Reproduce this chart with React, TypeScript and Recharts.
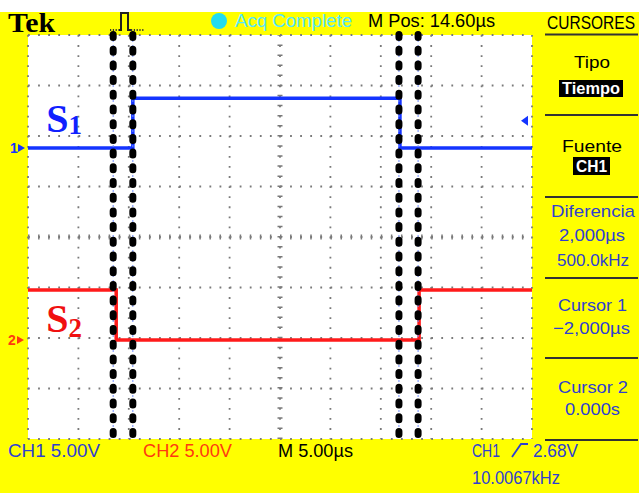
import React from 'react';
import { LineChart, Line, XAxis, YAxis, CartesianGrid, ReferenceLine, ReferenceDot } from 'recharts';

// ---------- data (units: screen divisions) ----------
const majorX = [0, 1, 2, 3, 4, 5, 6, 7, 8, 9, 10];
const majorY = [-4, -3, -2, -1, 0, 1, 2, 3, 4];
const minorX = Array.from({ length: 51 }, (_, i) => i / 5);
const minorY = Array.from({ length: 41 }, (_, i) => -4 + i / 5);

const s1Times = [0, 2.08, 2.08, 7.38, 7.38, 10];
const s1Levels = [1.76, 1.76, 2.75, 2.75, 1.76, 1.76];
const s2Times = [0, 1.75, 1.75, 7.76, 7.76, 10];
const s2Levels = [-1.05, -1.05, -2.04, -2.04, -1.05, -1.05];
const cursorTimes = [1.69, 2.08, 7.36, 7.74];
const ch1Ground = 1.76;
const ch2Ground = -2.04;
const ch1TriggerLevel = 2.3;
const s1LabelPos = { t: 0.38, v: 2.06 };
const s2LabelPos = { t: 0.38, v: -1.9 };

const topTexts = { brand: 'Tek', acq: 'Acq Complete', mpos: 'M Pos: 14.60µs', menu: 'CURSORES' };
const panelTexts = {
  tipo: 'Tipo', tiempo: 'Tiempo', fuente: 'Fuente', ch1: 'CH1',
  dif: 'Diferencia', difT: '2,000µs', difF: '500.0kHz',
  c1: 'Cursor 1', c1v: '−2,000µs', c2: 'Cursor 2', c2v: '0.000s',
};
const bottomTexts = { ch1: 'CH1  5.00V', ch2: 'CH2  5.00V', m: 'M 5.00µs', trig: 'CH1', trigV: '2.68V', freq: '10.0067kHz' };

const s1Data = s1Times.map((t, i) => ({ t, v: s1Levels[i] }));
const s2Data = s2Times.map((t, i) => ({ t, v: s2Levels[i] }));

// ---------- styling ----------
const W = 639;
const H = 493;
const MARGIN = { top: 35, right: 107, bottom: 54, left: 28 };
const SANS = "'Liberation Sans', Arial, sans-serif";
const SERIF = "'Liberation Serif', 'Times New Roman', serif";
const BLUE_TXT = '#2f3fd0';
const CH1_COLOR = '#1434ff';
const CH2_COLOR = '#ff1a1a';
const CH2_TXT = '#ff3a10';

const T = ({ x, y, w, size = 18, fill = '#000', anchor = 'start', weight = 400, family = SANS, children }: any) => (
  <text x={x} y={y} fontSize={size} fill={fill} textAnchor={anchor} fontWeight={weight}
    fontFamily={family} textLength={w} lengthAdjust="spacingAndGlyphs">{children}</text>
);

const vGen = (p: any) => {
  const o = p.offset;
  return majorX.map((v) => o.left + (v / 10) * o.width);
};
const hGen = (p: any) => {
  const o = p.offset;
  return majorY.map((v) => o.top + ((4 - v) / 8) * o.height);
};

const ch1Marker = (props: any) => {
  const vb = props.viewBox;
  const y = vb.y;
  return (
    <g>
      <text x={vb.x - 18} y={y + 5} fontSize={14} fontWeight={700} fill={CH1_COLOR} fontFamily={SANS}>1</text>
      <path d={`M${vb.x - 10},${y - 4} L${vb.x - 3},${y} L${vb.x - 10},${y + 4} Z`} fill={CH1_COLOR} />
    </g>
  );
};
const ch2Marker = (props: any) => {
  const vb = props.viewBox;
  const y = vb.y;
  return (
    <g>
      <text x={vb.x - 20} y={y + 5} fontSize={14} fontWeight={700} fill={CH2_TXT} fontFamily={SANS}>2</text>
      <path d={`M${vb.x - 11},${y - 4} L${vb.x - 4},${y} L${vb.x - 11},${y + 4} Z`} fill={CH2_TXT} />
    </g>
  );
};
const trigMarker = (props: any) => {
  const vb = props.viewBox;
  const xr = vb.x + vb.width;
  const y = vb.y;
  return <path d={`M${xr - 11},${y} L${xr - 4},${y - 5} L${xr - 4},${y + 5} Z`} fill={CH1_COLOR} />;
};
const s1Label = (props: any) => {
  const vb = props.viewBox;
  return (
    <text x={vb.x} y={vb.y} fontFamily={SERIF} fontWeight={700} fontSize={40} fill="#1020ff">
      S<tspan fontSize={27} dy={2}>1</tspan>
    </text>
  );
};
const s2Label = (props: any) => {
  const vb = props.viewBox;
  return (
    <text x={vb.x} y={vb.y} fontFamily={SERIF} fontWeight={700} fontSize={40} fill="#f01010">
      S<tspan fontSize={27} dy={5}>2</tspan>
    </text>
  );
};

export default function App() {
  return (
    <div style={{ position: 'absolute', left: 0, top: 0, width: W, height: H, background: '#fff', overflow: 'hidden' }}>
      <div style={{ position: 'absolute', left: 0, top: 12, width: W, height: H - 12, background: '#ffff00' }} />
      <div style={{ position: 'absolute', left: 0, top: 0 }}>
        <LineChart width={W} height={H} margin={MARGIN}>
          <CartesianGrid stroke="#7a7a7a" strokeWidth={1.8} strokeDasharray="1.8 8.28" fill="#ffffff"
            verticalCoordinatesGenerator={vGen} horizontalCoordinatesGenerator={hGen} />
          <XAxis xAxisId={0} dataKey="t" type="number" domain={[0, 10]} ticks={majorX} allowDataOverflow
            mirror height={0} tick={false} tickLine={false} axisLine={false} />
          <YAxis yAxisId={0} type="number" domain={[-4, 4]} ticks={majorY} allowDataOverflow
            mirror width={0} tick={false} tickLine={false} axisLine={false} />
          <XAxis xAxisId="bot" type="number" domain={[0, 10]} ticks={minorX} orientation="bottom" mirror height={0}
            tick={false} tickSize={4} tickLine={{ stroke: '#666', strokeWidth: 1.5 }} axisLine={{ stroke: '#222', strokeWidth: 2 }} />
          <XAxis xAxisId="top" type="number" domain={[0, 10]} ticks={minorX} orientation="top" mirror height={0}
            tick={false} tickSize={4} tickLine={{ stroke: '#666', strokeWidth: 1.5 }} axisLine={{ stroke: '#222', strokeWidth: 2 }} />
          <YAxis yAxisId="left" type="number" domain={[-4, 4]} ticks={minorY} orientation="left" mirror width={0}
            tick={false} tickSize={4} tickLine={{ stroke: '#666', strokeWidth: 1.5 }} axisLine={{ stroke: '#222', strokeWidth: 2 }} />
          <YAxis yAxisId="right" type="number" domain={[-4, 4]} ticks={minorY} orientation="right" mirror width={0}
            tick={false} tickSize={4} tickLine={{ stroke: '#666', strokeWidth: 1.5 }} axisLine={{ stroke: '#222', strokeWidth: 2 }} />

          <ReferenceLine y={0} stroke="#7a7a7a" strokeWidth={5} strokeDasharray="1.5 8.58" />
          <ReferenceLine x={5} stroke="#7a7a7a" strokeWidth={5} strokeDasharray="1.5 8.58" />

          <Line data={s1Data} dataKey="v" type="linear" stroke={CH1_COLOR} strokeWidth={3.5} dot={false} isAnimationActive={false} />
          <Line data={s2Data} dataKey="v" type="linear" stroke={CH2_COLOR} strokeWidth={3.5} dot={false} isAnimationActive={false} />

          <ReferenceLine y={ch1Ground} stroke="none" label={ch1Marker} ifOverflow="visible" />
          <ReferenceLine y={ch2Ground} stroke="none" label={ch2Marker} ifOverflow="visible" />
          <ReferenceLine y={ch1TriggerLevel} stroke="none" label={trigMarker} ifOverflow="visible" />
          <ReferenceDot x={s1LabelPos.t} y={s1LabelPos.v} r={1} fill="none" stroke="none" label={s1Label} />
          <ReferenceDot x={s2LabelPos.t} y={s2LabelPos.v} r={1} fill="none" stroke="none" label={s2Label} />

          {cursorTimes.map((c) => (
            <ReferenceLine key={'b' + c} segment={[{ x: c, y: 4.0 }, { x: c, y: -4.0 }]} ifOverflow="visible"
              stroke="#6f8cff" strokeWidth={1} strokeDasharray="2 3" />
          ))}
          {cursorTimes.map((c) => (
            <ReferenceLine key={'k' + c} segment={[{ x: c, y: 4.01 }, { x: c, y: -4.06 }]} ifOverflow="visible"
              stroke="#000" strokeWidth={7} strokeLinecap="round" strokeDasharray="3 11.7" />
          ))}
        </LineChart>
      </div>
      <svg width={W} height={H} style={{ position: 'absolute', left: 0, top: 0, pointerEvents: 'none' }}>
        {/* top bar */}
        <T x={8} y={32} w={47} size={28} weight={700} family={SERIF}>{topTexts.brand}</T>
        <path d="M110,30 L119,30" stroke="#333" strokeWidth={2} strokeDasharray="1.2 1.6" fill="none" />
        <path d="M119,30 L121,30 L121,13 L128,13 L128,30 L131,30" stroke="#222" strokeWidth={2} fill="none" />
        <path d="M131,30 L144,30" stroke="#333" strokeWidth={2} strokeDasharray="1.2 1.6" fill="none" />
        <circle cx={219} cy={21} r={8} fill="#22dcef" />
        <T x={235} y={27} w={117} size={19} fill="#55e6ff">{topTexts.acq}</T>
        <T x={368} y={27} w={127} size={19}>{topTexts.mpos}</T>
        <T x={635} y={29} w={88} size={18} anchor="end">{topTexts.menu}</T>
        <line x1={545} y1={34.5} x2={638} y2={34.5} stroke="#333" strokeWidth={2} />

        {/* right panel */}
        <T x={592} y={68} w={36} size={17} anchor="middle">{panelTexts.tipo}</T>
        <rect x={559} y={80} width={64} height={17} fill="#000" />
        <T x={591} y={94} w={58} size={16} fill="#fff" anchor="middle" weight={700}>{panelTexts.tiempo}</T>
        <line x1={545} y1={115} x2={638} y2={115} stroke="#333" strokeWidth={2} />
        <T x={592} y={152} w={60} size={17} anchor="middle">{panelTexts.fuente}</T>
        <rect x={573} y={157} width={37} height={18} fill="#000" />
        <T x={591.5} y={172} w={31} size={16} fill="#fff" anchor="middle" weight={700}>{panelTexts.ch1}</T>
        <line x1={545} y1={197} x2={638} y2={197} stroke="#333" strokeWidth={2} />
        <T x={593} y={217} w={84} size={17} fill={BLUE_TXT} anchor="middle">{panelTexts.dif}</T>
        <T x={592} y={241} w={66} size={17} fill={BLUE_TXT} anchor="middle">{panelTexts.difT}</T>
        <T x={593} y={266} w={72} size={17} fill={BLUE_TXT} anchor="middle">{panelTexts.difF}</T>
        <line x1={545} y1={278} x2={638} y2={278} stroke="#333" strokeWidth={2} />
        <T x={592.5} y={311} w={69} size={17} fill={BLUE_TXT} anchor="middle">{panelTexts.c1}</T>
        <T x={591.5} y={334} w={77} size={17} fill={BLUE_TXT} anchor="middle">{panelTexts.c1v}</T>
        <line x1={545} y1={358} x2={638} y2={358} stroke="#333" strokeWidth={2} />
        <T x={593} y={393} w={70} size={17} fill={BLUE_TXT} anchor="middle">{panelTexts.c2}</T>
        <T x={592.5} y={415} w={55} size={17} fill={BLUE_TXT} anchor="middle">{panelTexts.c2v}</T>
        <line x1={545} y1={440} x2={638} y2={440} stroke="#333" strokeWidth={2} />

        {/* bottom bar */}
        <T x={8} y={457} w={92} size={19} fill={BLUE_TXT}>{bottomTexts.ch1}</T>
        <T x={143} y={457} w={89} size={19} fill={CH2_TXT}>{bottomTexts.ch2}</T>
        <T x={278} y={457} w={75} size={19}>{bottomTexts.m}</T>
        <T x={472} y={457} w={28} size={19} fill={BLUE_TXT}>{bottomTexts.trig}</T>
        <path d="M512,457 L521,444 L528,444" stroke={BLUE_TXT} strokeWidth={1.8} fill="none" />
        <T x={533} y={457} w={45} size={19} fill={BLUE_TXT}>{bottomTexts.trigV}</T>
        <T x={472} y={484} w={88} size={19} fill={BLUE_TXT}>{bottomTexts.freq}</T>
      </svg>
    </div>
  );
}
